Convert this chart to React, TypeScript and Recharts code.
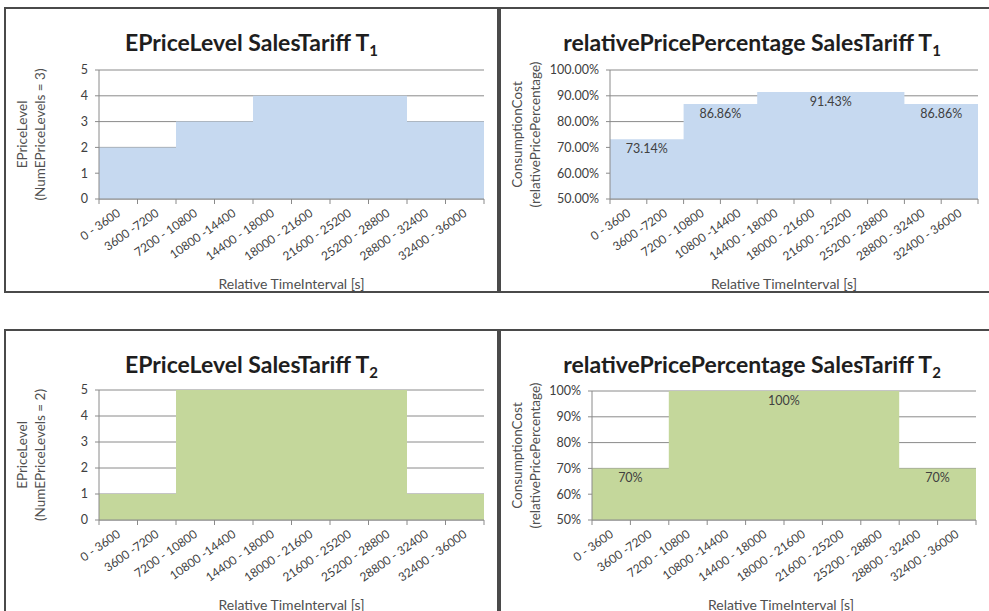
import React from "react";
import {
  Area,
  CartesianGrid,
  ComposedChart,
  Label,
  ReferenceDot,
  XAxis,
  YAxis,
} from "recharts";

// time intervals of the tariff schedule (s)
const intervalLabels = [
  "0 - 3600",
  "3600 -7200",
  "7200 - 10800",
  "10800 -14400",
  "14400 - 18000",
  "18000 - 21600",
  "21600 - 25200",
  "25200 - 28800",
  "28800 - 32400",
  "32400 - 36000",
];
const intervalLength = 3600;

// EPriceLevel per interval
const levelT1 = [2, 2, 3, 3, 4, 4, 4, 4, 3, 3];
const levelT2 = [1, 1, 5, 5, 5, 5, 5, 5, 1, 1];

// relativePricePercentage per interval (%)
const percentT1 = [73.14, 73.14, 86.86, 86.86, 91.43, 91.43, 91.43, 91.43, 86.86, 86.86];
const percentT2 = [70, 70, 100, 100, 100, 100, 100, 100, 70, 70];

const levelTicks = [0, 1, 2, 3, 4, 5];
const percentTicks = [50, 60, 70, 80, 90, 100];

const FONT = "Lato, 'Open Sans', sans-serif";
const TEXT = "#404040";
const AXIS = "#8a8a8a";
const BLUE = "#c6d9f0";
const GREEN = "#c4d79b";

const boundaries = intervalLabels.map((_, i) => i * intervalLength).concat(
  intervalLabels.length * intervalLength,
);

// one point per boundary, stepAfter draws the flat piece up to the next one
const toSteps = (values: number[]) =>
  boundaries.map((t, i) => ({
    t,
    v: values[Math.min(i, values.length - 1)],
  }));

// runs of equal values, labelled once in their middle
const toSegments = (values: number[]) => {
  const segs: { start: number; end: number; value: number }[] = [];
  values.forEach((v, i) => {
    const last = segs[segs.length - 1];
    if (last && last.value === v) last.end = i + 1;
    else segs.push({ start: i, end: i + 1, value: v });
  });
  return segs;
};

interface PanelProps {
  left: number;
  top: number;
  width: number;
  height: number;
  yAxisWidth: number;
  marginTop: number;
  marginRight: number;
  xAxisHeight: number;
  title: string;
  sub: string;
  yTitle: [string, string];
  values: number[];
  ticks: number[];
  tickFormat: (v: number) => string;
  labelFormat?: (v: number) => string;
  fill: string;
  xTitleDx?: number;
}

function Panel({
  left,
  top,
  width,
  height,
  yAxisWidth,
  marginTop,
  marginRight,
  xAxisHeight,
  title,
  sub,
  yTitle,
  values,
  ticks,
  tickFormat,
  labelFormat,
  fill,
  xTitleDx = 0,
}: PanelProps) {
  const plotWidth = width - yAxisWidth - marginRight;
  const half = plotWidth / intervalLabels.length / 2;
  const data = toSteps(values);
  const segments = labelFormat ? toSegments(values) : [];

  const renderTick = (props: any) => {
    const { x, y, payload } = props;
    const label = intervalLabels[Math.round(payload.value / intervalLength)];
    if (!label || payload.value >= boundaries[boundaries.length - 1]) return <g />;
    const ax = x + half + 3;
    const ay = y + 9;
    return (
      <text
        x={ax}
        y={ay}
        textAnchor="end"
        transform={`rotate(-35, ${ax}, ${ay})`}
        fontSize={12}
        fontFamily={FONT}
        fill={TEXT}
      >
        {label}
      </text>
    );
  };

  return (
    <>
      <div
        style={{
          position: "absolute",
          left,
          top,
          width,
          height,
        }}
      >
        <ComposedChart
          width={width}
          height={height}
          data={data}
          margin={{ top: marginTop, right: marginRight, left: 0, bottom: 0 }}
        >
          <CartesianGrid vertical={false} stroke={AXIS} strokeWidth={1} />
          <XAxis
            dataKey="t"
            type="number"
            domain={[0, boundaries[boundaries.length - 1]]}
            ticks={boundaries}
            interval={0}
            height={xAxisHeight}
            stroke={AXIS}
            tickSize={5}
            tickMargin={2}
            tick={renderTick}
          >
            <Label
              content={(p: any) => {
                const vb = p.viewBox;
                return (
                  <text
                    x={vb.x + vb.width / 2 + xTitleDx}
                    y={vb.y + 84}
                    textAnchor="middle"
                    dominantBaseline="central"
                    fontSize={14}
                    fontFamily={FONT}
                    fill="#505050"
                  >
                    Relative TimeInterval [s]
                  </text>
                );
              }}
            />
          </XAxis>
          <YAxis
            type="number"
            domain={[ticks[0], ticks[ticks.length - 1]]}
            ticks={ticks}
            interval={0}
            width={yAxisWidth}
            stroke={AXIS}
            tickSize={4}
            tickMargin={7}
            tickFormatter={tickFormat}
            tick={{ fontSize: 12.5, fontFamily: FONT, fill: TEXT }}
          >
            <Label
              content={(p: any) => {
                const vb = p.viewBox;
                const cy = vb.y + vb.height / 2;
                return (
                  <g fontSize={13.5} fontFamily={FONT} fill="#505050">
                    {yTitle.map((line, i) => {
                      const cx = vb.x + 18 + i * 18;
                      return (
                        <text
                          key={line}
                          x={cx}
                          y={cy}
                          textAnchor="middle"
                          dominantBaseline="central"
                          transform={`rotate(-90, ${cx}, ${cy})`}
                        >
                          {line}
                        </text>
                      );
                    })}
                  </g>
                );
              }}
            />
          </YAxis>
          <Area
            dataKey="v"
            type="stepAfter"
            stroke="none"
            fill={fill}
            fillOpacity={1}
            baseValue="dataMin"
            isAnimationActive={false}
            dot={false}
            activeDot={false}
          />
          {segments.map((s) => (
            <ReferenceDot
              key={`${s.start}-${s.end}`}
              x={((s.start + s.end) / 2) * intervalLength}
              y={s.value}
              r={0}
              fill="none"
              stroke="none"
              label={{
                value: labelFormat ? labelFormat(s.value) : "",
                position: "bottom",
                offset: 5,
                fontSize: 12.5,
                fontFamily: FONT,
                fill: TEXT,
              }}
            />
          ))}
        </ComposedChart>
        <div
          style={{
            position: "absolute",
            left: 0,
            top: 23,
            width: "100%",
            textAlign: "center",
            fontFamily: FONT,
            fontWeight: 700,
            fontSize: 23,
            lineHeight: "24px",
            color: "#1e1e1e",
          }}
        >
          {title}
          <span style={{ fontSize: 15, position: "relative", top: 5 }}>{sub}</span>
        </div>
      </div>
      <div
        style={{
          position: "absolute",
          left,
          top,
          width,
          height,
          boxSizing: "border-box",
          border: "2px solid #4a4a4a",
          pointerEvents: "none",
        }}
      />
    </>
  );
}

export default function App() {
  const pct2 = (v: number) => `${v.toFixed(2)}%`;
  const pct0 = (v: number) => `${v.toFixed(0)}%`;
  return (
    <div
      style={{
        position: "absolute",
        left: 0,
        top: 0,
        width: 989,
        height: 611,
        overflow: "hidden",
        background: "#fff",
      }}
    >
      <Panel
        left={4}
        top={7}
        width={495}
        height={286}
        yAxisWidth={95}
        marginTop={63}
        marginRight={15}
        xAxisHeight={94}
        title="EPriceLevel SalesTariff T"
        sub="1"
        yTitle={["EPriceLevel", "(NumEPriceLevels = 3)"]}
        values={levelT1}
        ticks={levelTicks}
        tickFormat={(v) => String(v)}
        fill={BLUE}
      />
      <Panel
        left={499}
        top={7}
        width={506}
        height={286}
        yAxisWidth={111}
        marginTop={63}
        marginRight={27}
        xAxisHeight={94}
        title="relativePricePercentage SalesTariff T"
        sub="1"
        yTitle={["ConsumptionCost", "(relativePricePercentage)"]}
        values={percentT1}
        ticks={percentTicks}
        tickFormat={pct2}
        labelFormat={pct2}
        fill={BLUE}
        xTitleDx={-10}
      />
      <Panel
        left={4}
        top={329}
        width={495}
        height={286}
        yAxisWidth={95}
        marginTop={61}
        marginRight={15}
        xAxisHeight={95}
        title="EPriceLevel SalesTariff T"
        sub="2"
        yTitle={["EPriceLevel", "(NumEPriceLevels = 2)"]}
        values={levelT2}
        ticks={levelTicks}
        tickFormat={(v) => String(v)}
        fill={GREEN}
      />
      <Panel
        left={499}
        top={329}
        width={506}
        height={286}
        yAxisWidth={93}
        marginTop={62}
        marginRight={29}
        xAxisHeight={95}
        title="relativePricePercentage SalesTariff T"
        sub="2"
        yTitle={["ConsumptionCost", "(relativePricePercentage)"]}
        values={percentT2}
        ticks={percentTicks}
        tickFormat={pct0}
        labelFormat={pct0}
        fill={GREEN}
        xTitleDx={-3}
      />
    </div>
  );
}
